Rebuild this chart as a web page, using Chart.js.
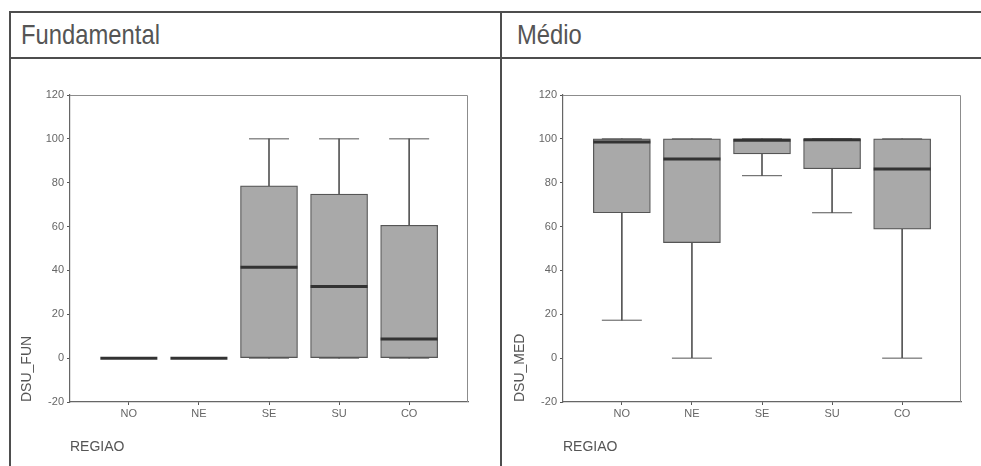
<!DOCTYPE html>
<html>
<head>
<meta charset="utf-8">
<script src="https://cdn.jsdelivr.net/npm/chart.js@4.4.1/dist/chart.umd.min.js"></script>
<style>
  body { margin: 0; background: #fff; width: 981px; height: 466px; overflow: hidden; position: relative; }
  .rule { position: absolute; background: #4e4e4e; }
  .head { position: absolute; top: 21px; font-family: "Liberation Sans", Arial, sans-serif; font-size: 28px; line-height: 28px; color: #555; transform: scaleX(0.85); transform-origin: left top; white-space: nowrap; }
  canvas { position: absolute; }
</style>
</head>
<body>
<div class="rule" style="left:9px;top:11px;width:972px;height:2px"></div>
<div class="rule" style="left:9px;top:57px;width:972px;height:2px"></div>
<div class="rule" style="left:9px;top:11px;width:2px;height:455px"></div>
<div class="rule" style="left:500px;top:11px;width:2px;height:455px"></div>
<div class="head" style="left:21px">Fundamental</div>
<div class="head" style="left:517px">Médio</div>
<canvas id="funChart" width="488" height="406" style="left:12px;top:60px"></canvas>
<canvas id="medChart" width="478" height="406" style="left:503px;top:60px"></canvas>
<script>
"use strict";

const regioes = ["NO", "NE", "SE", "SU", "CO"];
const yTicks = [-20, 0, 20, 40, 60, 80, 100, 120];

// DSU_FUN
const funMin = [0, 0, 0, 0, 0];
const funQ1 = [0, 0, 0, 0, 0];
const funMediana = [0, 0, 41.4, 32.7, 8.7];
const funQ3 = [0, 0, 78.6, 74.8, 60.6];
const funMax = [0, 0, 100, 100, 100];

// DSU_MED
const medMin = [17.3, 0, 83.2, 66.3, 0];
const medQ1 = [66.3, 52.7, 93.1, 86.4, 58.8];
const medMediana = [98.6, 90.8, 99.4, 99.6, 86.3];
const medQ3 = [100, 100, 100, 100, 100];
const medMax = [100, 100, 100, 100, 100];

const fontFamily = "'Liberation Sans', Arial, sans-serif";

const framePlugin = {
  id: "frame",
  beforeDatasetsDraw(chart) {
    const a = chart.chartArea;
    const ctx = chart.ctx;
    ctx.save();
    ctx.strokeStyle = "#8c8c8c";
    ctx.lineWidth = 1;
    ctx.beginPath();
    ctx.moveTo(a.left, a.top + 0.5);
    ctx.lineTo(a.right - 0.5, a.top + 0.5);
    ctx.lineTo(a.right - 0.5, a.bottom);
    ctx.stroke();
    ctx.restore();
  },
};

function ranges(lo, hi) {
  return regioes.map((r, i) => ({ x: i, y: [lo[i], hi[i]] }));
}

function makeChart(id, stats, yTitle, geo) {
  const caps = [];
  regioes.forEach((r, i) => {
    caps.push({ x: i, y: stats.min[i] });
    caps.push({ x: i, y: stats.max[i] });
  });

  return new Chart(document.getElementById(id), {
    type: "bar",
    data: {
      datasets: [
        {
          type: "scatter",
          data: regioes.map((r, i) => ({ x: i, y: stats.median[i] })),
          pointStyle: "line",
          pointRadius: 28.5,
          pointBorderWidth: 3,
          pointBorderColor: "#333",
          order: 0,
        },
        {
          type: "scatter",
          data: caps,
          pointStyle: "line",
          pointRadius: 20,
          pointBorderWidth: 1,
          pointBorderColor: "#555",
          order: 1,
        },
        {
          data: ranges(stats.q1, stats.q3),
          backgroundColor: "#a9a9a9",
          borderColor: "#555",
          borderWidth: 1.2,
          borderSkipped: false,
          barThickness: 57,
          grouped: false,
          order: 2,
        },
        {
          data: ranges(stats.min, stats.q1),
          backgroundColor: "#555",
          barThickness: 1,
          grouped: false,
          order: 3,
        },
        {
          data: ranges(stats.q3, stats.max),
          backgroundColor: "#555",
          barThickness: 1,
          grouped: false,
          order: 3,
        },
      ],
    },
    options: {
      responsive: false,
      animation: false,
      layout: {
        autoPadding: false,
        padding: { top: geo.top, right: geo.right, bottom: 0, left: 0 },
      },
      plugins: { legend: { display: false }, tooltip: { enabled: false } },
      scales: {
        x: {
          type: "linear",
          offset: false,
          min: -0.84,
          max: 4.84,
          afterBuildTicks: (axis) => {
            axis.ticks = regioes.map((r, i) => ({ value: i }));
          },
          afterFit: (scale) => {
            scale.height = 64;
            scale.paddingLeft = 0;
            scale.paddingRight = 0;
          },
          ticks: {
            callback: (v) => regioes[v],
            color: "#666",
            font: { family: fontFamily, size: 11 },
            padding: 2,
            maxRotation: 0,
          },
          grid: { offset: false, drawOnChartArea: false, tickLength: 3, color: "#555" },
          border: { color: "#666", width: 1.2 },
          title: {
            display: true,
            text: "REGIAO",
            align: "start",
            color: "#555",
            font: { family: fontFamily, size: 14 },
            padding: { top: 0, bottom: 10 },
          },
        },
        y: {
          min: -20,
          max: 120,
          afterBuildTicks: (axis) => {
            axis.ticks = yTicks.map((v) => ({ value: v }));
          },
          afterFit: (scale) => {
            scale.width = geo.yWidth;
            scale.paddingTop = 0;
            scale.paddingBottom = 0;
          },
          ticks: {
            color: "#666",
            font: { family: fontFamily, size: 11 },
            padding: 3,
          },
          grid: { drawOnChartArea: false, tickLength: 3, color: "#555" },
          border: { color: "#666", width: 1.2 },
          title: {
            display: true,
            text: yTitle,
            align: "start",
            color: "#555",
            font: { family: fontFamily, size: 14 },
            padding: { top: geo.titlePad, bottom: 0 },
          },
        },
      },
    },
    plugins: [framePlugin],
  });
}

makeChart(
  "funChart",
  { min: funMin, q1: funQ1, median: funMediana, q3: funQ3, max: funMax },
  "DSU_FUN",
  { top: 35, right: 32, yWidth: 58, titlePad: 6.6 }
);

makeChart(
  "medChart",
  { min: medMin, q1: medQ1, median: medMediana, q3: medQ3, max: medMax },
  "DSU_MED",
  { top: 35, right: 20, yWidth: 60, titlePad: 8.6 }
);
</script>
</body>
</html>
